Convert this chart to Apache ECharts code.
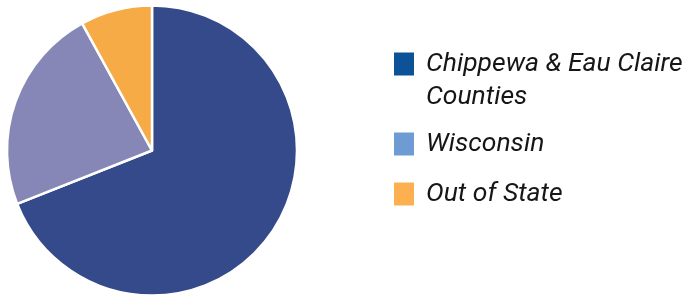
<!DOCTYPE html>
<html>
<head>
<meta charset="utf-8">
<script src="https://cdn.jsdelivr.net/npm/echarts@6/dist/echarts.min.js"></script>
<style>
  html, body { margin: 0; padding: 0; background: #ffffff; }
  #chart { width: 689px; height: 296px; }
</style>
</head>
<body>
<div id="chart"></div>
<script>
// origin of respondents
var categories = ['Chippewa & Eau Claire Counties', 'Wisconsin', 'Out of State'];
var shares = [69, 23, 8];
var sliceColors = ['#344a8a', '#8787b7', '#f6ab47'];
var legendColors = ['#0c5297', '#6f9bd4', '#fdb04f'];

var chart = echarts.init(document.getElementById('chart'));

function legendItems() {
  return categories.map(function (name, i) {
    return {
      name: name,
      itemStyle: { color: legendColors[i], borderWidth: 0 },
      textStyle: { lineHeight: i === 0 ? 33 : 39 }
    };
  });
}

chart.setOption({
  animation: false,
  backgroundColor: '#ffffff',
  legend: {
    orient: 'vertical',
    left: 394,
    top: 14.5,
    padding: 0,
    itemGap: 11,
    itemWidth: 27,
    itemHeight: 23,
    // square plus an empty stroke to push the label right
    icon: 'path://M0,0H20V23H0Z M27,0V23',
    selectedMode: false,
    data: legendItems(),
    formatter: function (name) {
      if (name === categories[0]) {
        // blank first line keeps line one level with the square
        return '\n' + name.replace(' Counties', '\nCounties');
      }
      return name;
    },
    textStyle: {
      fontFamily: 'Roboto',
      fontStyle: 'italic',
      fontSize: 26.5,
      color: '#161616'
    }
  },
  series: [
    {
      type: 'pie',
      center: [152, 150.5],
      radius: 145,
      startAngle: 90,
      clockwise: true,
      label: { show: false },
      labelLine: { show: false },
      emphasis: { disabled: true },
      itemStyle: {
        borderColor: '#ffffff',
        borderWidth: 2.5
      },
      data: categories.map(function (name, i) {
        return { name: name, value: shares[i], itemStyle: { color: sliceColors[i] } };
      })
    }
  ]
});
</script>
</body>
</html>
